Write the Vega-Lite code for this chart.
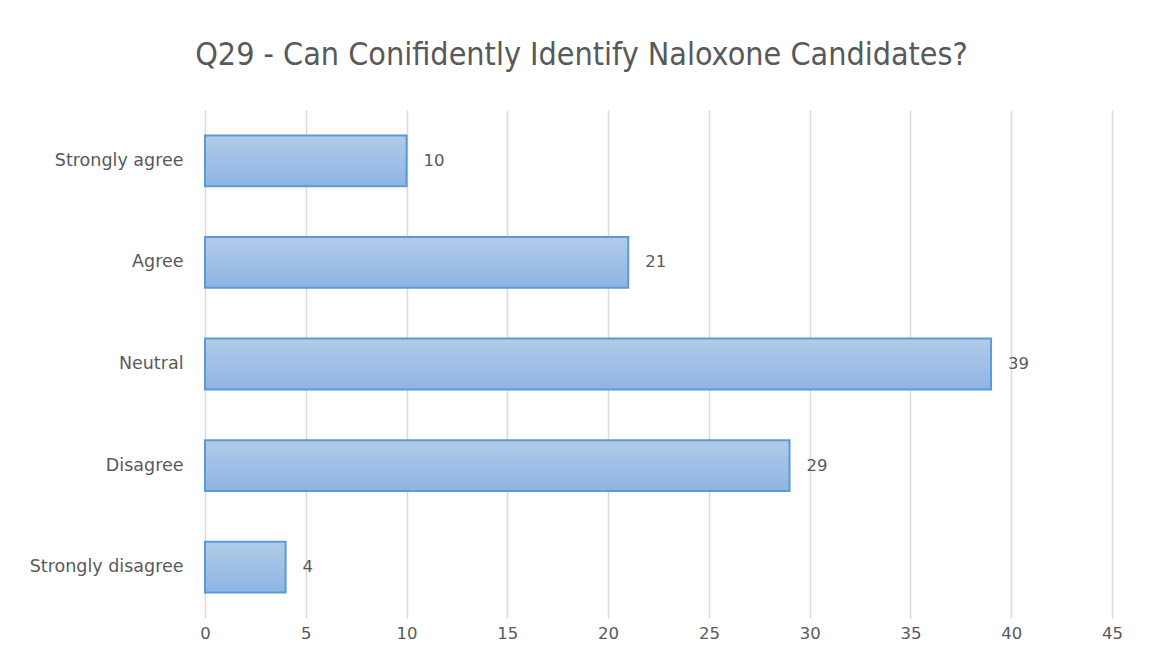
{
  "$schema": "https://vega.github.io/schema/vega-lite/v6.json",
  "width": 907,
  "height": 508,
  "autosize": {"type": "none"},
  "padding": {"left": 205, "top": 110, "right": 38, "bottom": 53},
  "background": "white",
  "title": {
    "text": "Q29 - Can Conifidently  Identify Naloxone Candidates?",
    "font": "DejaVu Sans Condensed, DejaVu Sans",
    "fontSize": 32,
    "fontWeight": "normal",
    "color": "#595959",
    "anchor": "middle",
    "dx": -77,
    "offset": 38
  },
  "data": {
    "values": [
      {"response": "Strongly agree", "count": 10},
      {"response": "Agree", "count": 21},
      {"response": "Neutral", "count": 39},
      {"response": "Disagree", "count": 29},
      {"response": "Strongly disagree", "count": 4}
    ]
  },
  "encoding": {
    "y": {
      "field": "response",
      "type": "nominal",
      "sort": null,
      "scale": {"paddingInner": 0.5, "paddingOuter": 0.25},
      "axis": {
        "title": null,
        "domain": false,
        "ticks": false,
        "labelFont": "DejaVu Sans",
        "labelFontSize": 17.5,
        "labelColor": "#595959",
        "labelPadding": 22
      }
    },
    "x": {
      "field": "count",
      "type": "quantitative",
      "scale": {"domain": [0, 45], "nice": false},
      "axis": {
        "title": null,
        "values": [0, 5, 10, 15, 20, 25, 30, 35, 40, 45],
        "domain": false,
        "ticks": false,
        "grid": true,
        "gridColor": "#d9d9d9",
        "gridWidth": 1.5,
        "labelFlush": false,
        "labelFont": "DejaVu Sans",
        "labelFontSize": 16.5,
        "labelColor": "#595959",
        "labelPadding": 7
      }
    }
  },
  "layer": [
    {
      "mark": {
        "type": "bar",
        "stroke": "#5b9bd5",
        "strokeWidth": 2,
        "color": {
          "gradient": "linear",
          "x1": 0, "y1": 0, "x2": 0, "y2": 1,
          "stops": [
            {"offset": 0, "color": "#b1cbe9"},
            {"offset": 1, "color": "#8fb4e3"}
          ]
        }
      }
    },
    {
      "mark": {
        "type": "text",
        "align": "left",
        "baseline": "middle",
        "dx": 17,
        "font": "DejaVu Sans",
        "fontSize": 16.5,
        "color": "#595959"
      },
      "encoding": {"text": {"field": "count", "type": "quantitative"}}
    }
  ],
  "config": {"view": {"stroke": null}}
}
